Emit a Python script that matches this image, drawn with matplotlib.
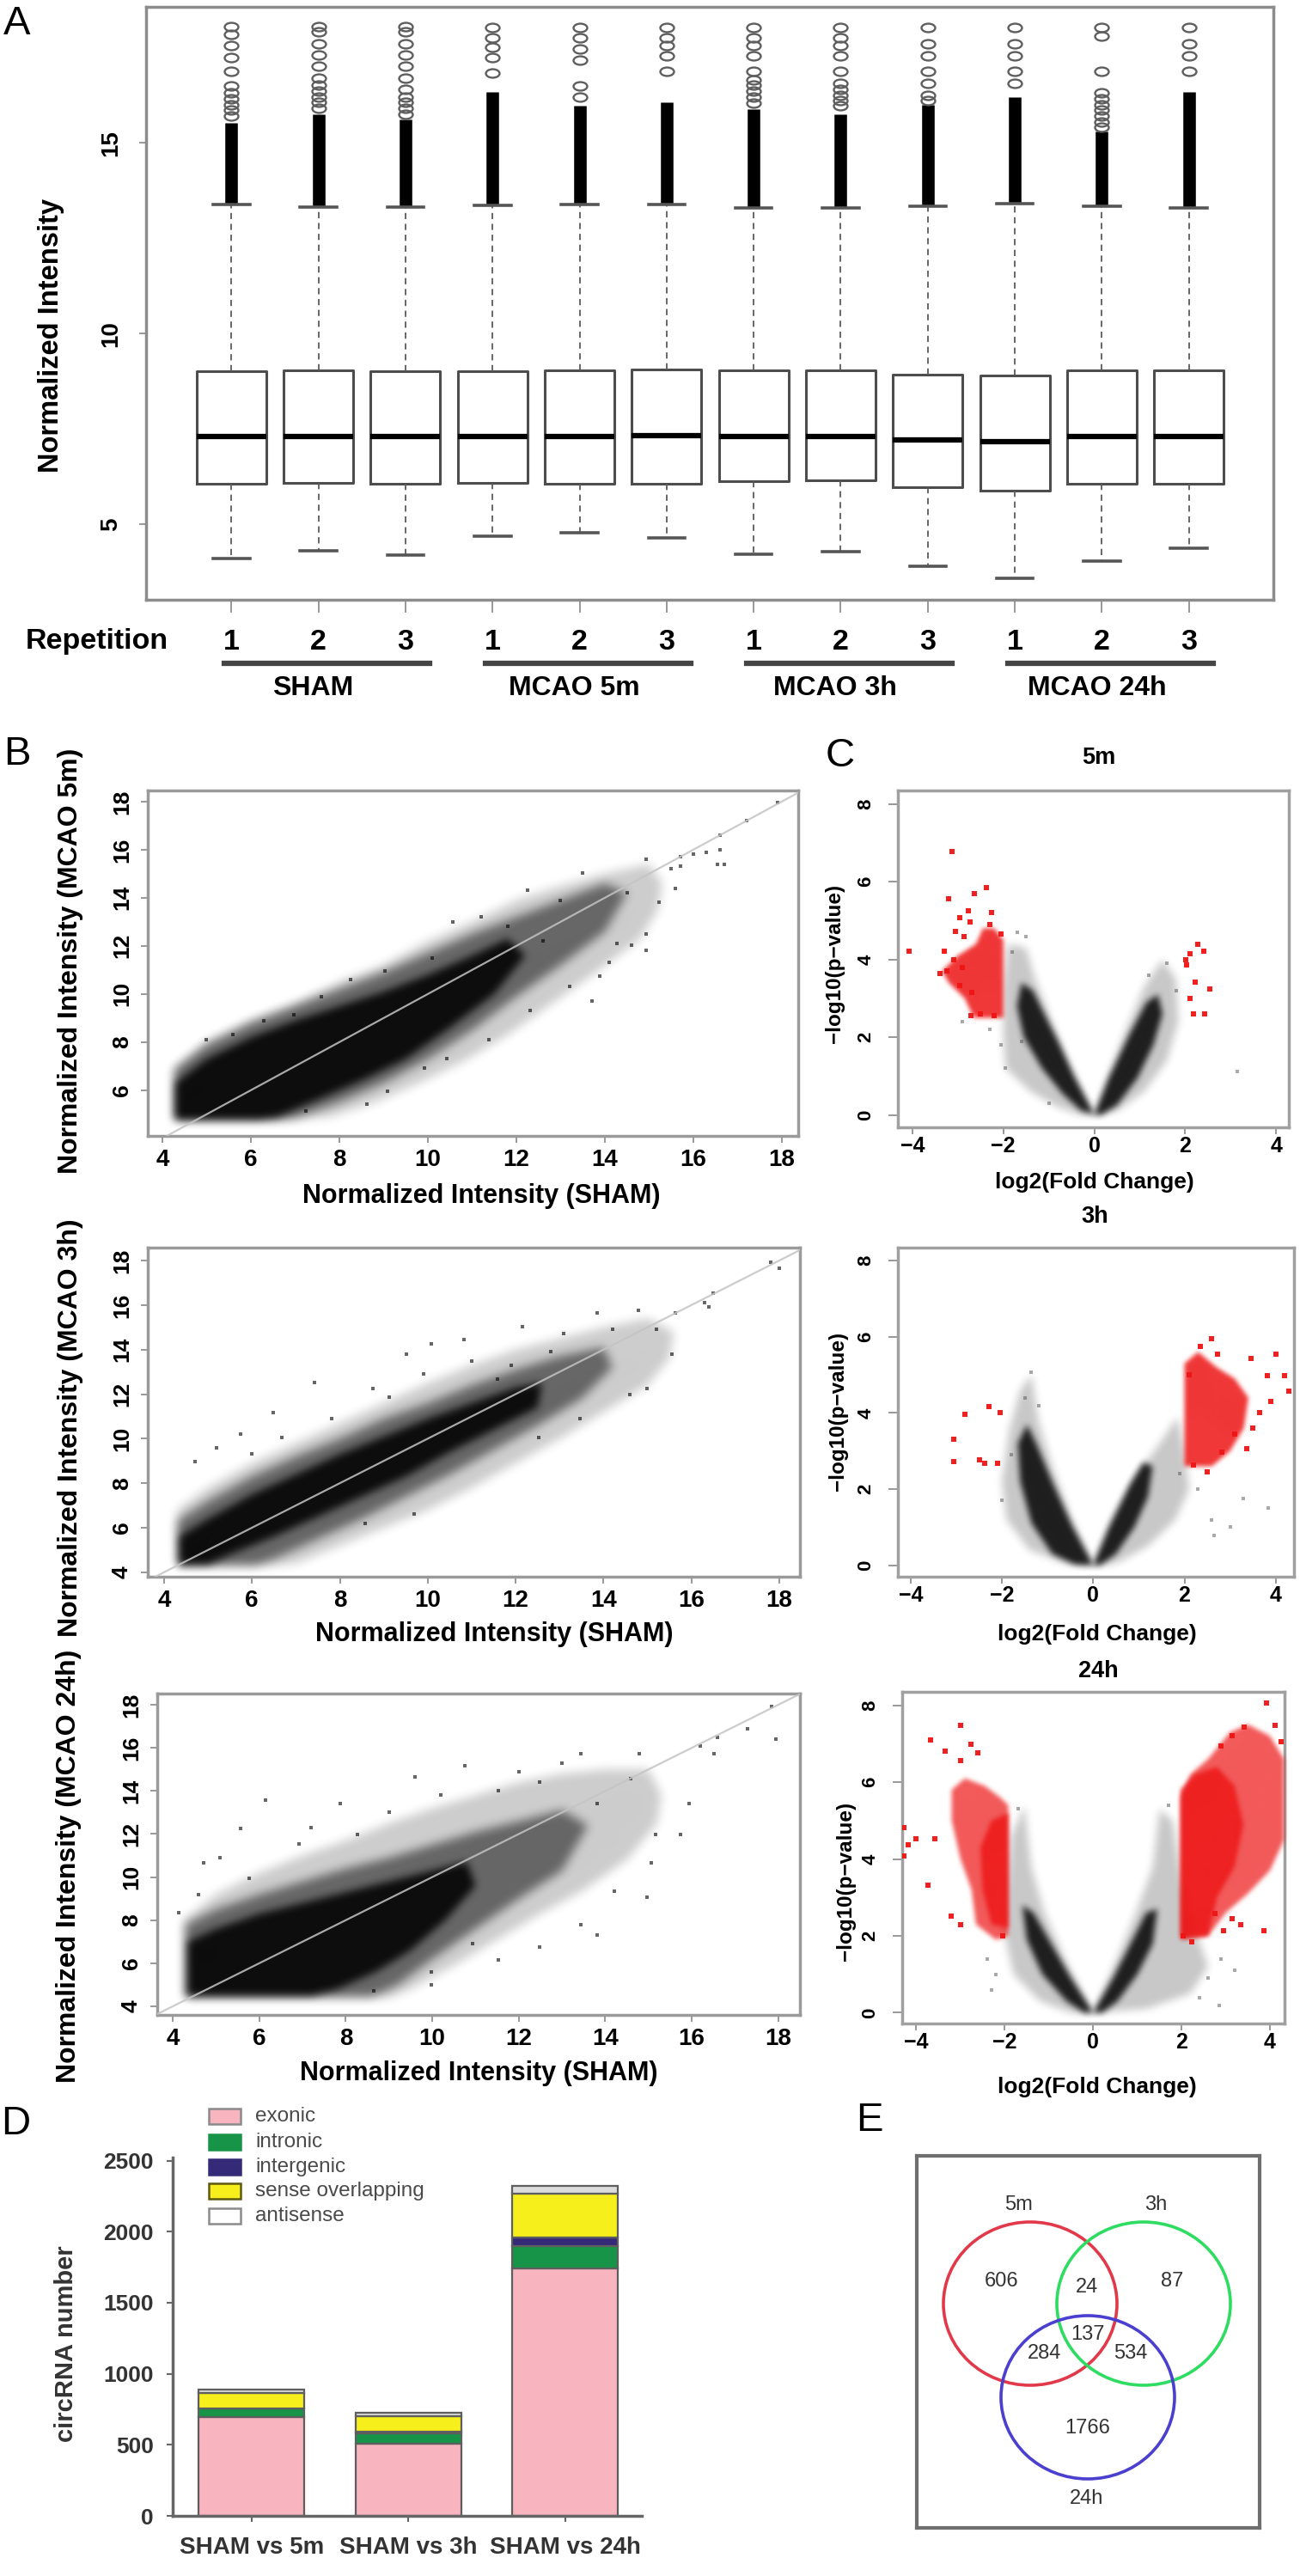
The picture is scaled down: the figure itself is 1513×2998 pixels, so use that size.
import numpy as np
import matplotlib
matplotlib.use("Agg")
import matplotlib.pyplot as plt
import matplotlib.transforms as mtransforms
from matplotlib.patches import Polygon, Ellipse, Rectangle
from matplotlib.lines import Line2D
from matplotlib.path import Path

# ---------------- DATA ----------------
# Panel A: box statistics (12 arrays: 4 groups x 3 repetitions)
reps = ["1", "2", "3"] * 4
groups = ["SHAM", "MCAO 5m", "MCAO 3h", "MCAO 24h"]
group_first = [1, 4, 7, 10]
group_last = [3, 6, 9, 12]
box_q1 = [6.07, 6.08, 6.07, 6.08, 6.07, 6.07, 6.13, 6.14, 5.98, 5.89, 6.07, 6.07]
box_med = [7.30, 7.31, 7.30, 7.29, 7.31, 7.33, 7.30, 7.30, 7.21, 7.16, 7.30, 7.30]
box_q3 = [9.02, 9.03, 9.02, 9.02, 9.03, 9.05, 9.03, 9.04, 8.92, 8.90, 9.03, 9.03]
whisk_lo = [4.10, 4.30, 4.20, 4.69, 4.77, 4.64, 4.21, 4.28, 3.90, 3.59, 4.04, 4.38]
whisk_hi = [13.38, 13.32, 13.32, 13.35, 13.38, 13.38, 13.30, 13.30, 13.33, 13.40, 13.33, 13.30]
solid_top = [15.51, 15.74, 15.60, 16.34, 15.96, 16.07, 15.89, 15.74, 16.00, 16.19, 15.29, 16.34]
fliers = [
    [15.7, 15.85, 16.0, 16.15, 16.3, 16.49, 16.86, 17.24, 17.54, 17.84, 18.05],
    [15.9, 16.05, 16.2, 16.35, 16.5, 16.7, 17.0, 17.3, 17.6, 17.9, 18.05],
    [15.75, 15.9, 16.05, 16.2, 16.4, 16.7, 17.0, 17.3, 17.6, 17.9, 18.05],
    [16.82, 17.24, 17.5, 17.76, 18.03],
    [16.19, 16.49, 17.16, 17.45, 17.76, 18.03],
    [16.86, 17.27, 17.54, 17.76, 18.03],
    [16.04, 16.2, 16.35, 16.5, 16.64, 16.86, 17.27, 17.54, 17.76, 18.03],
    [15.96, 16.1, 16.25, 16.4, 16.56, 16.86, 17.27, 17.54, 17.76, 18.03],
    [16.1, 16.25, 16.56, 16.86, 17.27, 17.6, 18.03],
    [16.56, 16.86, 17.27, 17.6, 18.03],
    [15.4, 15.55, 15.7, 15.85, 16.0, 16.15, 16.3, 16.86, 17.8, 18.03],
    [16.86, 17.27, 17.6, 18.03],
]

# Panel B: scatter clouds (density envelopes) and scattered points
B5_OUTER = [(4.25, 4.75), (4.25, 6.8), (5.0, 8.0), (6.0, 8.9), (7.0, 9.6), (8.0, 10.5), (9.0, 11.2),
            (10.0, 12.2), (11.0, 13.0), (12.0, 13.9), (13.0, 14.5), (14.0, 15.0), (15.0, 15.4),
            (15.3, 14.6), (15.2, 13.5), (14.8, 12.3), (13.8, 10.9), (12.8, 9.6), (11.8, 8.3),
            (10.8, 7.2), (9.8, 6.3), (8.8, 5.5), (7.8, 4.9), (6.5, 4.75)]
B5_MID = [(4.28, 4.78), (4.28, 6.9), (5.0, 7.9), (6.0, 8.8), (7.0, 9.5), (8.0, 10.2), (9.0, 10.9),
          (10.0, 11.7), (11.0, 12.5), (12.0, 13.2), (13.0, 13.9), (14.0, 14.6), (14.5, 14.2),
          (14.0, 12.6), (13.0, 11.2), (12.0, 9.9), (11.0, 8.5), (10.0, 7.3), (9.0, 6.3),
          (8.0, 5.5), (7.0, 4.85), (6.6, 4.78)]
B5_CORE = [(4.3, 4.8), (4.3, 6.3), (5.0, 7.3), (6.0, 8.2), (7.0, 8.9), (8.0, 9.5), (9.0, 10.1),
           (10.0, 10.8), (11.0, 11.6), (11.8, 12.3), (12.2, 11.6), (11.5, 10.0), (10.5, 8.6),
           (9.5, 7.3), (8.5, 6.4), (7.5, 5.6), (6.6, 4.9), (6.2, 4.8)]
B5_PTS = [(5.0, 8.1), (6.97, 9.12), (8.25, 10.6), (9.03, 10.96), (10.56, 12.99), (11.2, 13.2),
          (12.26, 14.33), (13.49, 15.04), (14.94, 15.6), (15.6, 14.4), (16.55, 15.4), (13.71, 9.71),
          (13.88, 10.73), (14.6, 12.04), (14.93, 11.8), (14.93, 12.5), (14.27, 12.1), (15.22, 13.8),
          (12.32, 9.3), (11.37, 8.1), (10.42, 7.33), (9.92, 6.92), (9.08, 5.96), (8.63, 5.43),
          (7.24, 5.13), (15.5, 15.2), (15.7, 15.7), (16.0, 15.8), (16.3, 15.9), (16.6, 16.0),
          (16.7, 15.4), (16.6, 16.6), (17.2, 17.2), (17.9, 17.95), (15.7, 15.3), (14.5, 14.2),
          (13.0, 13.9), (12.6, 12.2), (11.8, 12.8), (10.1, 11.5), (7.6, 9.9), (6.3, 8.9),
          (5.6, 8.3), (14.1, 11.3), (13.2, 10.3)]

B3H_OUTER = [(4.3, 4.3), (4.3, 6.8), (5.0, 7.8), (6.0, 8.9), (7.0, 9.8), (8.0, 10.7), (9.0, 11.6),
             (10.0, 12.5), (11.0, 13.3), (12.0, 14.0), (13.0, 14.5), (14.0, 15.0), (15.0, 15.4),
             (15.6, 14.8), (15.5, 13.6), (15.0, 12.4), (14.0, 11.2), (13.0, 10.0), (12.0, 8.9),
             (11.0, 7.8), (10.0, 6.8), (9.0, 6.0), (8.0, 5.2), (7.0, 4.4), (6.5, 4.3)]
B3H_MID = [(4.32, 4.32), (4.3, 6.3), (5.0, 7.2), (6.0, 8.3), (7.0, 9.2), (8.0, 10.0), (9.0, 10.9),
           (10.0, 11.6), (11.0, 12.4), (12.0, 13.1), (13.0, 13.7), (14.0, 14.1), (14.2, 13.2),
           (13.5, 11.8), (12.5, 10.6), (11.5, 9.5), (10.5, 8.4), (9.5, 7.4), (8.5, 6.4),
           (7.5, 5.5), (6.5, 4.6), (6.1, 4.32)]
B3H_CORE = [(4.35, 4.35), (4.35, 5.6), (5.0, 6.4), (6.0, 7.5), (7.0, 8.4), (8.0, 9.3), (9.0, 10.1),
            (10.0, 10.9), (11.0, 11.6), (12.0, 12.3), (12.6, 12.5), (12.5, 11.4), (11.5, 10.4),
            (10.5, 9.4), (9.5, 8.3), (8.5, 7.4), (7.5, 6.5), (6.5, 5.6), (5.5, 4.8), (5.0, 4.35)]
B3H_PTS = [(4.7, 8.96), (5.74, 10.2), (6.68, 10.06), (7.81, 10.89), (9.13, 11.85), (9.51, 13.78),
           (10.08, 14.26), (11.58, 12.68), (12.15, 15.02), (13.85, 15.64), (14.79, 15.78),
           (15.55, 13.78), (14.98, 12.26), (9.7, 6.62), (8.57, 6.2), (12.53, 10.06), (13.47, 10.89),
           (14.6, 11.99), (16.49, 16.53), (16.3, 16.12), (17.81, 17.91), (18.0, 17.64),
           (15.64, 15.64), (7.43, 12.54), (6.49, 11.16), (8.75, 12.26), (10.83, 14.47),
           (13.1, 14.74), (11.0, 13.5), (12.8, 13.9), (14.2, 14.9), (15.2, 14.9), (16.4, 15.9),
           (5.2, 9.6), (6.0, 9.3), (9.9, 12.9), (11.9, 13.3)]

B24_OUTER = [(4.25, 4.4), (4.25, 8.0), (5.0, 9.2), (6.0, 10.2), (7.0, 11.0), (8.0, 11.7), (9.0, 12.5),
             (10.0, 13.2), (11.0, 13.8), (12.0, 14.4), (13.0, 14.8), (14.0, 15.0), (15.0, 15.0),
             (15.3, 13.8), (15.2, 12.5), (14.5, 10.8), (13.5, 9.4), (12.5, 8.3), (11.5, 7.1),
             (10.5, 5.9), (9.5, 4.8), (9.0, 4.4)]
B24_MID = [(4.3, 4.45), (4.3, 7.8), (5.0, 8.5), (6.0, 9.2), (7.0, 9.8), (8.0, 10.4), (9.0, 10.9),
           (10.0, 11.5), (11.0, 12.1), (12.0, 12.6), (13.0, 13.1), (13.6, 12.4), (13.0, 10.3),
           (12.0, 9.0), (11.0, 7.6), (10.0, 6.2), (9.2, 5.0), (8.6, 4.45)]
B24_CORE = [(4.35, 4.5), (4.35, 7.0), (5.0, 7.6), (6.0, 8.3), (7.0, 8.8), (8.0, 9.3), (9.0, 9.8),
            (10.0, 10.3), (10.8, 10.7), (11.0, 9.6), (10.3, 8.0), (9.5, 6.6), (8.7, 5.6), (7.8, 4.8),
            (7.2, 4.5)]
B24_PTS = [(4.13, 8.35), (4.71, 10.67), (5.57, 12.26), (6.15, 13.57), (7.87, 13.42), (9.6, 14.65),
           (10.76, 15.16), (13.44, 15.74), (14.78, 15.74), (8.64, 4.72), (9.98, 5.59), (10.94, 6.9),
           (12.48, 6.75), (13.82, 7.33), (14.97, 9.07), (15.07, 10.67), (15.17, 11.97),
           (15.74, 11.97), (15.93, 13.42), (16.51, 15.74), (17.28, 16.9), (17.95, 16.39),
           (17.85, 17.91), (5.76, 9.94), (6.91, 11.54), (8.26, 11.97), (11.52, 14.0), (12.48, 14.43),
           (13.82, 13.42), (14.59, 14.58), (9.98, 5.01), (11.52, 6.17), (13.44, 7.77), (14.21, 9.36),
           (16.2, 16.1), (16.6, 16.5), (7.2, 12.3), (9.0, 13.0), (10.2, 13.8), (12.0, 14.9),
           (13.0, 15.3), (4.6, 9.2), (5.1, 10.9)]

# Panel C: volcano clouds
C5_LEFT_OUTER = [(0, 0), (-0.5, 1.2), (-0.9, 2.3), (-1.3, 3.5), (-1.5, 4.3), (-1.9, 4.4), (-2.0, 3.2),
                 (-2.0, 2.0), (-1.95, 1.2), (-1.4, 0.6), (-0.8, 0.2), (-0.3, 0.0)]
C5_LEFT_CORE = [(0, 0), (-0.45, 1.0), (-0.8, 1.9), (-1.1, 2.6), (-1.35, 3.2), (-1.6, 3.4), (-1.7, 2.8),
                (-1.55, 2.0), (-1.15, 1.2), (-0.7, 0.55), (-0.3, 0.12)]
C5_RIGHT_OUTER = [(0, 0), (0.3, 1.0), (0.7, 2.2), (1.1, 3.3), (1.5, 4.0), (1.8, 3.5), (1.85, 2.4),
                  (1.6, 1.4), (1.1, 0.6), (0.5, 0.1)]
C5_RIGHT_CORE = [(0, 0), (0.33, 0.97), (0.78, 2.08), (1.15, 2.9), (1.4, 3.1), (1.5, 2.6), (1.3, 1.8),
                 (0.95, 0.95), (0.5, 0.25), (0.15, 0.0)]
C5_RED_AREA = [(-2.0, 2.5), (-2.0, 4.5), (-2.2, 4.8), (-2.45, 4.8), (-2.6, 4.4), (-3.0, 4.1),
               (-3.35, 3.7), (-3.2, 3.4), (-2.85, 3.0), (-2.65, 2.5)]
C5_RED_PTS = [(-3.12, 6.78), (-3.2, 5.56), (-2.64, 5.69), (-2.38, 5.86), (-2.26, 5.21), (-2.77, 5.25),
              (-2.95, 5.07), (-2.73, 4.96), (-3.06, 4.73), (-2.86, 4.59), (-2.05, 4.66), (-4.07, 4.22),
              (-3.29, 4.22), (-3.25, 3.7), (-2.95, 3.33), (-2.7, 3.15), (-2.71, 2.56), (-3.4, 3.65),
              (-3.1, 4.0), (-2.5, 2.6), (-2.2, 2.55), (-2.9, 3.8), (-2.3, 4.9), (2.03, 3.85),
              (2.02, 4.0), (2.1, 4.14), (2.27, 4.38), (2.4, 4.22), (2.22, 3.41), (2.54, 3.24),
              (2.1, 3.0), (2.18, 2.61), (2.42, 2.61)]
C5_GRAY_PTS = [(3.14, 1.12), (-2.9, 2.4), (-1.7, 4.7), (-1.95, 1.2), (1.6, 3.9), (-1.8, 4.2),
               (-1.5, 4.6), (1.8, 3.2), (-2.05, 1.8), (-1.6, 1.9), (-2.3, 2.2), (1.2, 3.6), (-1.0, 0.3)]

C3H_LEFT_OUTER = [(0, 0), (-0.5, 1.3), (-0.9, 2.6), (-1.2, 3.8), (-1.35, 5.0), (-1.6, 4.6), (-1.85, 3.5),
                  (-2.0, 2.2), (-1.9, 1.2), (-1.4, 0.4), (-0.6, 0.05)]
C3H_LEFT_CORE = [(0, 0), (-0.46, 1.03), (-0.9, 2.2), (-1.25, 3.2), (-1.45, 3.7), (-1.65, 3.2),
                 (-1.6, 2.2), (-1.35, 1.1), (-0.9, 0.3), (-0.4, 0.02)]
C3H_RIGHT_OUTER = [(0, 0), (0.4, 1.2), (0.9, 2.3), (1.4, 3.1), (1.85, 3.9), (2.0, 3.0), (2.1, 2.0),
                   (1.8, 1.2), (1.2, 0.5), (0.5, 0.05)]
C3H_RIGHT_CORE = [(0, 0), (0.35, 1.0), (0.8, 2.1), (1.1, 2.7), (1.3, 2.6), (1.2, 1.8), (0.9, 1.0),
                  (0.5, 0.3), (0.15, 0.0)]
C3H_RED_AREA = [(2.0, 2.6), (2.0, 5.3), (2.3, 5.6), (2.7, 5.2), (3.1, 4.9), (3.4, 4.4), (3.3, 3.6),
                (3.0, 3.0), (2.6, 2.6)]
C3H_RED_PTS = [(2.59, 5.95), (2.73, 5.54), (3.46, 5.42), (4.0, 5.54), (3.82, 4.98), (4.19, 4.98),
               (4.28, 4.58), (3.64, 4.01), (3.37, 3.05), (2.82, 2.97), (2.19, 2.64), (2.5, 2.45),
               (3.1, 3.45), (3.5, 3.6), (2.1, 5.0), (2.35, 5.75), (3.9, 4.3), (-2.28, 4.17),
               (-2.04, 4.01), (-2.82, 3.97), (-3.06, 3.3), (-3.06, 2.72), (-2.5, 2.76),
               (-2.37, 2.68), (-2.09, 2.68)]
C3H_GRAY_PTS = [(3.28, 1.76), (3.83, 1.51), (2.64, 0.79), (-1.37, 5.06), (-1.5, 4.4), (2.6, 1.2),
                (2.3, 2.0), (1.9, 2.4), (-2.0, 1.7), (-1.8, 2.9), (3.0, 1.0), (-1.2, 4.2)]

C24_LEFT_OUTER = [(0, 0), (-0.6, 1.3), (-1.1, 2.6), (-1.4, 3.8), (-1.55, 5.4), (-1.85, 4.6), (-1.95, 3.2),
                  (-2.0, 2.0), (-1.8, 1.0), (-1.2, 0.3), (-0.5, 0.0)]
C24_LEFT_CORE = [(0, 0), (-0.5, 0.9), (-0.95, 1.8), (-1.35, 2.6), (-1.6, 2.8), (-1.5, 1.9), (-1.15, 1.0),
                 (-0.6, 0.3), (-0.2, 0.0)]
C24_RIGHT_OUTER = [(0, 0), (0.5, 1.3), (1.0, 2.7), (1.35, 3.8), (1.5, 5.3), (1.8, 5.0), (2.0, 3.5),
                   (2.3, 2.2), (2.6, 1.2), (2.2, 0.5), (1.2, 0.1)]
C24_RIGHT_CORE = [(0, 0), (0.45, 0.9), (0.85, 1.8), (1.2, 2.6), (1.45, 2.7), (1.35, 1.8), (1.0, 1.0),
                  (0.55, 0.3), (0.2, 0.0)]
C24_RED_LEFT = [(-1.92, 2.0), (-1.92, 5.4), (-2.1, 5.6), (-2.45, 5.9), (-2.9, 6.1), (-3.2, 5.8),
                (-3.2, 5.0), (-3.0, 4.0), (-2.75, 3.2), (-2.65, 2.3), (-2.2, 1.9)]
C24_RED_LEFT_CORE = [(-1.92, 2.2), (-1.92, 5.2), (-2.3, 5.0), (-2.55, 4.3), (-2.5, 3.2), (-2.3, 2.3)]
C24_RED_RIGHT = [(1.98, 1.9), (1.98, 5.6), (2.2, 6.2), (2.6, 6.6), (3.1, 7.3), (3.5, 7.5), (4.0, 7.2),
                 (4.32, 6.6), (4.32, 4.5), (4.0, 3.7), (3.5, 3.1), (3.0, 2.6), (2.6, 2.0)]
C24_RED_RIGHT_CORE = [(1.98, 1.95), (1.98, 5.8), (2.3, 6.2), (2.8, 6.4), (3.2, 5.9), (3.4, 4.9),
                      (3.2, 3.8), (2.8, 3.0), (2.6, 2.0)]
C24_RED_PTS = [(-2.99, 7.47), (-3.67, 7.09), (-2.76, 6.98), (-2.6, 6.76), (-3.35, 6.8), (-2.99, 6.57),
               (-4.29, 4.82), (-4.0, 4.52), (-3.58, 4.52), (-3.74, 3.33), (-4.29, 4.08), (-3.22, 2.52),
               (-2.99, 2.29), (-2.05, 1.99), (-4.19, 4.37), (3.93, 8.06), (4.12, 7.47), (3.41, 7.43),
               (3.15, 7.2), (2.89, 6.95), (4.25, 7.05), (3.86, 2.14), (3.15, 2.44), (2.76, 2.59),
               (3.34, 2.29), (2.95, 2.14), (2.04, 1.99), (2.24, 1.84)]
C24_GRAY_PTS = [(2.86, 0.18), (2.6, 0.9), (-2.2, 1.0), (2.9, 1.4), (2.4, 0.4), (-2.3, 0.6),
                (3.2, 1.1), (-2.4, 1.4), (-1.7, 5.3), (1.7, 5.4)]

# Panel D: stacked bars
d_categories = ["SHAM vs 5m", "SHAM vs 3h", "SHAM vs 24h"]
d_layers = ["exonic", "intronic", "intergenic", "sense overlapping", "antisense"]
exonic = [694, 508, 1740]
intronic = [60, 75, 157]
intergenic = [5, 8, 60]
sense_overlapping = [107, 111, 310]
antisense = [26, 25, 56]

# Panel E: Venn counts
venn_sets = ["5m", "3h", "24h"]
venn_only_5m, venn_5m_3h, venn_only_3h = 606, 24, 87
venn_5m_24h, venn_all, venn_3h_24h, venn_only_24h = 284, 137, 534, 1766

# ---------------- HELPERS ----------------
W, H = 1513, 2998
BOLD = ["Liberation Sans", "DejaVu Sans"]
NARROW = ["Liberation Sans Narrow", "Liberation Sans", "DejaVu Sans"]
plt.rcParams["font.family"] = BOLD
fig = plt.figure(figsize=(W / 100, H / 100), dpi=100)
fig.patch.set_facecolor("white")
RED = "#ee1414"


def rect(x0, y0, x1, y1):
    return [x0 / W, 1 - y1 / H, (x1 - x0) / W, (y1 - y0) / H]


def ftext(x, y, s, **kw):
    kw.setdefault("ha", "center")
    kw.setdefault("va", "center")
    return fig.text(x / W, 1 - y / H, s, **kw)


def _box(a, r, axis):
    a = np.moveaxis(a, axis, 0)
    n = a.shape[0]
    p = np.concatenate([np.zeros((r + 1,) + a.shape[1:]), a, np.zeros((r,) + a.shape[1:])], axis=0)
    c = np.cumsum(p, axis=0)
    out = (c[2 * r + 1:] - c[:n]) / (2 * r + 1)
    return np.moveaxis(out, 0, axis)


class SoftBlur:
    def __init__(self, r, passes=3):
        self.r = r
        self.passes = passes

    def __call__(self, im, dpi):
        pad = self.r * self.passes + 2
        a = np.pad(im, ((pad, pad), (pad, pad), (0, 0)))
        al = a[..., 3:4]
        st = np.concatenate([a[..., :3] * al, al], axis=2)
        for _ in range(self.passes):
            st = _box(st, self.r, 0)
            st = _box(st, self.r, 1)
        al = st[..., 3:4]
        rgb = np.where(al > 1e-6, st[..., :3] / np.maximum(al, 1e-6), 0.0)
        out = np.concatenate([np.clip(rgb, 0, 1), np.clip(al, 0, 1)], axis=2)
        return out, -pad, -pad


def frame(ax, color="#8c8c8c", lw=2.5):
    for s in ax.spines.values():
        s.set_color(color)
        s.set_linewidth(lw)


def cloud(ax, poly, color, alpha, r=3, z=2):
    p = Polygon(np.array(poly, dtype=float), closed=True, fc=color, ec="none", alpha=alpha, zorder=z)
    p.set_agg_filter(SoftBlur(r))
    ax.add_patch(p)


def pts(ax, plist, color, ms, alpha, marker="s", z=3):
    a = np.array(plist, dtype=float)
    ax.plot(a[:, 0], a[:, 1], ls="none", marker=marker, ms=ms, color=color, alpha=alpha, mew=0, zorder=z)


# ---------------- PANEL A ----------------
axA = fig.add_axes(rect(170, 8, 1482, 698))
pos = np.arange(1, 13)
stats = [dict(med=box_med[i], q1=box_q1[i], q3=box_q3[i], whislo=whisk_lo[i], whishi=whisk_hi[i],
              fliers=fliers[i], label=reps[i]) for i in range(12)]
axA.vlines(pos, whisk_hi, solid_top, colors="black", lw=10.5, zorder=2)
ell = Path.unit_circle().transformed(mtransforms.Affine2D().scale(1.0, 0.62))
axA.bxp(stats, positions=pos, widths=0.8, capwidths=0.42, showfliers=True,
        boxprops=dict(color="#4d4d4d", lw=2.2),
        whiskerprops=dict(color="#5a5a5a", lw=1.3, ls=(0, (4, 3))),
        capprops=dict(color="#555555", lw=2.6),
        medianprops=dict(color="black", lw=4.5),
        flierprops=dict(marker=ell, ms=11.5, mfc="none", mec="#5e5e5e", mew=1.7))
axA.set_xlim(0.02, 12.97)
axA.set_ylim(3.02, 18.56)
axA.set_xticks(pos)
axA.set_xticklabels([])
axA.tick_params(axis="x", length=11, color="#888888", width=1.2)
axA.set_yticks([5, 10, 15])
axA.set_yticklabels(["5", "10", "15"], rotation=90, fontsize=20, fontweight="bold", va="center")
axA.tick_params(axis="y", length=6, color="#888888", width=1.2, pad=14)
frame(axA)
ftext(60, 391, "Normalized Intensity", rotation=90, fontsize=23.5, fontweight="bold")

transA = mtransforms.blended_transform_factory(axA.transData, fig.transFigure)
ftext(113, 747, "Repetition", fontsize=24.5, fontweight="bold")
for p, r in zip(pos, reps):
    fig.text(p, 1 - 747 / H, r, transform=transA, ha="center", va="center", fontsize=24.5, fontweight="bold")
for g, a, b in zip(groups, group_first, group_last):
    fig.add_artist(Line2D([a - 0.08, b + 0.28], [1 - 772 / H] * 2, transform=transA, color="#454545", lw=4.5))
    fig.text((a + b) / 2 - 0.06, 1 - 801 / H, g, transform=transA, ha="center", va="center",
             fontsize=23, fontweight="bold")


# ---------------- PANEL B ----------------
def scatter_panel(box, outer, mid, core, plist, xlim, ylim, yticks):
    ax = fig.add_axes(rect(*box))
    cloud(ax, outer, "black", 0.2, r=5)
    cloud(ax, mid, "black", 0.5, r=5)
    cloud(ax, core, "black", 0.88, r=4)
    pts(ax, plist, "black", 3.0, 0.6)
    ax.axline((0, 0), slope=1, color="#c4c4c4", lw=1.6, alpha=0.85, zorder=4)
    ax.set_xlim(*xlim)
    ax.set_ylim(*ylim)
    xt = [4, 6, 8, 10, 12, 14, 16, 18]
    ax.set_xticks(xt)
    ax.set_xticklabels([str(v) for v in xt], fontsize=20, fontweight="bold")
    ax.set_yticks(yticks)
    ax.set_yticklabels([str(v) for v in yticks], rotation=90, fontsize=19, fontweight="bold",
                       family=NARROW, va="center")
    ax.tick_params(axis="x", length=6, color="#888888", width=1.2, pad=5)
    ax.tick_params(axis="y", length=6, color="#888888", width=1.2, pad=7)
    frame(ax, "#9a9a9a")
    return ax


scatter_panel((172, 920, 929, 1322), B5_OUTER, B5_MID, B5_CORE, B5_PTS, (3.67, 18.37), (4.1, 18.46),
              [6, 8, 10, 12, 14, 16, 18])
scatter_panel((172, 1452, 931, 1835), B3H_OUTER, B3H_MID, B3H_CORE, B3H_PTS, (3.63, 18.47), (3.8, 18.58),
              [4, 6, 8, 10, 12, 14, 16, 18])
scatter_panel((183, 1971, 931, 2345), B24_OUTER, B24_MID, B24_CORE, B24_PTS, (3.64, 18.5), (3.6, 18.52),
              [4, 6, 8, 10, 12, 14, 16, 18])

for (x, y) in [(560, 1392), (575, 1902), (557, 2413)]:
    ftext(x, y, "Normalized Intensity (SHAM)", fontsize=22, fontweight="bold")
for (x, y, s) in [(82, 1118, "Normalized Intensity (MCAO 5m)"), (82, 1662, "Normalized Intensity (MCAO 3h)"),
                  (80, 2172, "Normalized Intensity (MCAO 24h)")]:
    ftext(x, y, s, rotation=90, fontsize=23, fontweight="bold")


# ---------------- PANEL C ----------------
def volcano(box, xlim, ylim, outers, cores, reds, red_cores, red_pts, gray_pts, red_alpha):
    ax = fig.add_axes(rect(*box))
    for poly in outers:
        cloud(ax, poly, "black", 0.22, r=4)
    for poly in cores:
        cloud(ax, poly, "black", 0.85)
    pts(ax, gray_pts, "#555555", 3.0, 0.5)
    for poly in reds:
        cloud(ax, poly, RED, red_alpha, r=2, z=3)
    for poly in red_cores:
        cloud(ax, poly, RED, 0.8, r=2, z=3)
    pts(ax, red_pts, RED, 5.0, 0.95, z=4)
    ax.set_xlim(*xlim)
    ax.set_ylim(*ylim)
    xt = [-4, -2, 0, 2, 4]
    ax.set_xticks(xt)
    ax.set_xticklabels(["\u22124", "\u22122", "0", "2", "4"], fontsize=18, fontweight="bold")
    yt = [0, 2, 4, 6, 8]
    ax.set_yticks(yt)
    ax.set_yticklabels([str(v) for v in yt], rotation=90, fontsize=16, fontweight="bold",
                       family=NARROW, va="center")
    ax.tick_params(axis="x", length=6, color="#888888", width=1.2, pad=1)
    ax.tick_params(axis="y", length=8, color="#888888", width=1.2, pad=11)
    frame(ax, "#a0a0a0")
    return ax


volcano((1045, 920, 1500, 1312), (-4.32, 4.28), (-0.32, 8.35),
        [C5_LEFT_OUTER, C5_RIGHT_OUTER], [C5_LEFT_CORE, C5_RIGHT_CORE], [C5_RED_AREA], [],
        C5_RED_PTS, C5_GRAY_PTS, 0.85)
volcano((1045, 1452, 1506, 1835), (-4.28, 4.4), (-0.3, 8.34),
        [C3H_LEFT_OUTER, C3H_RIGHT_OUTER], [C3H_LEFT_CORE, C3H_RIGHT_CORE], [C3H_RED_AREA], [],
        C3H_RED_PTS, C3H_GRAY_PTS, 0.85)
volcano((1050, 1969, 1495, 2355), (-4.32, 4.33), (-0.28, 8.35),
        [C24_LEFT_OUTER, C24_RIGHT_OUTER], [C24_LEFT_CORE, C24_RIGHT_CORE], [C24_RED_LEFT, C24_RED_RIGHT],
        [C24_RED_LEFT_CORE, C24_RED_RIGHT_CORE], C24_RED_PTS, C24_GRAY_PTS, 0.7)

for (x, y, s) in [(1279, 882, "5m"), (1274, 1416, "3h"), (1278, 1945, "24h")]:
    ftext(x, y, s, fontsize=19.5, fontweight="bold")
for (x, y) in [(1274, 1376), (1277, 1902), (1277, 2429)]:
    ftext(x, y, "log2(Fold Change)", fontsize=19, fontweight="bold")
for (x, y) in [(972, 1121), (976, 1642), (985, 2189)]:
    ftext(x, y, "\u2212log10(p\u2212value)", rotation=90, fontsize=17.5, fontweight="bold")

# ---------------- PANEL D ----------------
axD = fig.add_axes(rect(201, 2511, 747, 2928))
d_values = [exonic, intronic, intergenic, sense_overlapping, antisense]
d_colors = ["#f8b4bf", "#179447", "#352a78", "#f7ef1c", "#dcdcdc"]
xD = np.arange(len(d_categories))
bottom = np.zeros(len(d_categories))
for vals, col in zip(d_values, d_colors):
    axD.bar(xD, vals, bottom=bottom, width=0.674, color=col, edgecolor="#5e5e5e", lw=1.6, zorder=2)
    bottom = bottom + np.array(vals)
axD.set_xlim(-0.504, 2.49)
axD.set_ylim(0, 2522)
axD.set_yticks([0, 500, 1000, 1500, 2000, 2500])
axD.set_yticklabels(["0", "500", "1000", "1500", "2000", "2500"], fontsize=19, fontweight="bold", color="#333333")
axD.set_xticks(xD)
axD.set_xticklabels(d_categories, fontsize=20, fontweight="bold", color="#333333")
axD.tick_params(axis="y", length=5, color="#666666", width=1.5, pad=11)
axD.tick_params(axis="x", length=5, color="#666666", width=1.5, pad=12)
for s in ["top", "right"]:
    axD.spines[s].set_visible(False)
for s in ["left", "bottom"]:
    axD.spines[s].set_color("#666666")
    axD.spines[s].set_linewidth(2.5)
ftext(77, 2728, "circRNA number", rotation=90, fontsize=21, fontweight="bold", color="#333333")

leg_rows = [2463, 2493, 2522, 2550, 2579]
leg_edges = ["#8a8a8a", "#179447", "#352a78", "#5d5a10", "#8a8a8a"]
leg_fill = ["#f8b4bf", "#179447", "#352a78", "#f7ef1c", "#ffffff"]
for lab, yy, fc, ec in zip(d_layers, leg_rows, leg_fill, leg_edges):
    fig.add_artist(Rectangle((243 / W, 1 - (yy + 9) / H), 37 / W, 18 / H, transform=fig.transFigure,
                             fc=fc, ec=ec, lw=1.8))
    ftext(297, yy, lab, ha="left", fontsize=17.5, color="#4a4a4a")

# ---------------- PANEL E ----------------
axE = fig.add_axes(rect(1067, 2509, 1466, 2942))
axE.set_xlim(1067, 1466)
axE.set_ylim(2942, 2509)
axE.set_xticks([])
axE.set_yticks([])
frame(axE, "#6e6e6e", 3)
venn_colors = ["#e2394a", "#2fdc62", "#4b3fd0"]
venn_centers = [(1199, 2681), (1331, 2681), (1266, 2790)]
for (cx, cy), col in zip(venn_centers, venn_colors):
    axE.add_patch(Ellipse((cx, cy), 202, 190, fill=False, ec=col, lw=2.6))
for (x, y), s in zip([(1185, 2566), (1345, 2566), (1265, 2908)], venn_sets):
    axE.text(x, y, s, ha="center", va="center", fontsize=17, color="#333333")
for (x, y), v in zip([(1166, 2655), (1265, 2662), (1364, 2655), (1216, 2739), (1266, 2717), (1316, 2739),
                      (1266, 2826)],
                     [venn_only_5m, venn_5m_3h, venn_only_3h, venn_5m_24h, venn_all, venn_3h_24h,
                      venn_only_24h]):
    axE.text(x, y, str(v), ha="center", va="center", fontsize=17, color="#333333")

# ---------------- PANEL LETTERS ----------------
for (x, y, s) in [(20, 28, "A"), (20, 878, "B"), (978, 880, "C"), (18, 2472, "D"), (1012, 2468, "E")]:
    ftext(x, y, s, fontsize=34)

fig.savefig("out.png", dpi=100, facecolor="white")
